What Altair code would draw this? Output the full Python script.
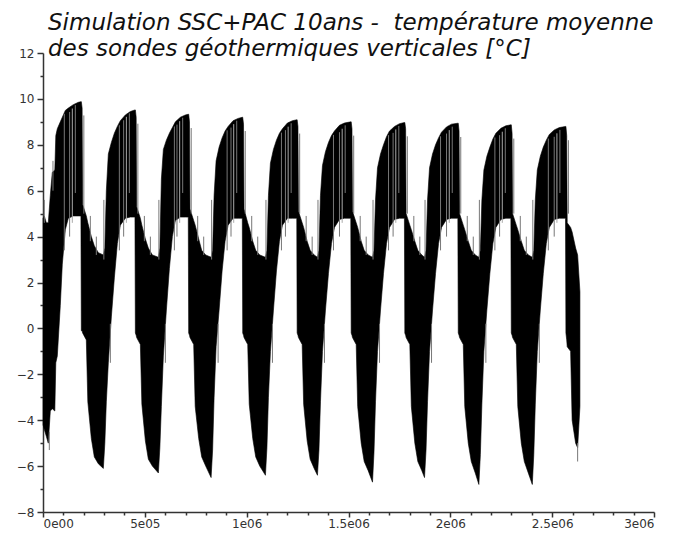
import altair as alt
import pandas as pd

# ---- data (time in thousands of units, temperature in °C) ----
# envelope of the dense signal: per segment, time / upper / lower
seg_time_k = [
    [0, 6.4, 16.2, 26.0, 35.9, 45.7, 58.0, 62.9, 70.3, 85.0, 94.8, 109.6, 124.3, 148.9, 173.4, 186.2, 188.2],
    [192.1, 194.6, 212.7, 220.1, 237.3, 252.0, 271.7, 296.3],
    [303.6, 311.0, 320.8, 335.6, 350.3, 365.1, 379.8, 404.4, 429.0, 451.5, 453.5],
    [457.4, 459.9, 478.0, 485.4, 502.6, 517.3, 537.0, 566.5],
    [573.8, 581.2, 591.0, 605.8, 620.5, 635.2, 650.0, 674.5, 699.1, 713.3, 715.3],
    [719.2, 721.7, 739.9, 747.3, 764.5, 779.2, 798.9, 825.4],
    [832.8, 840.1, 849.9, 864.7, 879.4, 894.1, 908.9, 933.4, 958.0, 978.6, 980.6],
    [984.6, 987.0, 1005.2, 1012.6, 1029.8, 1044.5, 1064.2, 1092.2],
    [1099.5, 1106.9, 1116.7, 1131.5, 1146.2, 1160.9, 1175.7, 1200.2, 1224.8, 1246.0, 1247.9],
    [1251.8, 1254.3, 1272.5, 1279.8, 1297.0, 1311.8, 1331.4, 1347.6],
    [1355.0, 1362.4, 1372.2, 1386.9, 1401.7, 1416.4, 1431.1, 1455.7, 1480.3, 1511.2, 1513.2],
    [1517.1, 1519.6, 1537.8, 1545.1, 1562.3, 1577.1, 1596.7, 1617.9],
    [1625.2, 1632.6, 1642.4, 1657.2, 1671.9, 1686.6, 1701.4, 1725.9, 1750.5, 1774.5, 1776.5],
    [1780.5, 1782.9, 1801.1, 1808.5, 1825.7, 1840.4, 1860.1, 1873.3],
    [1880.7, 1888.1, 1897.9, 1912.6, 1927.4, 1942.1, 1956.8, 1981.4, 2006.0, 2036.9, 2038.9],
    [2042.8, 2045.3, 2063.5, 2070.8, 2088.0, 2102.8, 2122.4, 2140.1],
    [2147.5, 2154.9, 2164.7, 2179.4, 2194.2, 2208.9, 2223.6, 2248.2, 2272.8, 2297.3, 2299.3],
    [2303.2, 2305.7, 2323.9, 2331.2, 2348.4, 2363.2, 2382.8, 2402.5],
    [2409.8, 2417.2, 2427.0, 2441.8, 2456.5, 2471.2, 2486.0, 2510.5, 2535.1, 2565.5, 2567.5],
    [2571.4, 2573.9, 2590.6, 2598.0, 2615.2, 2625.0, 2636.3],
]
seg_upper = [
    [4.8, 4.9, 4.6, 4.6, 5.8, 6.8, 6.9, 8.4, 8.7, 9.0, 9.2, 9.5, 9.6, 9.75, 9.85, 9.88, 9.88],
    [9.6, 5.4, 4.9, 4.6, 4.0, 3.6, 3.3, 3.2],
    [3.5, 6.0, 7.6, 8.1, 8.5, 8.8, 9.05, 9.3, 9.45, 9.52, 9.52],
    [9.2, 5.3, 4.8, 4.5, 3.9, 3.5, 3.2, 3.1],
    [3.5, 6.5, 7.8, 8.2, 8.5, 8.75, 9.0, 9.2, 9.3, 9.33, 9.33],
    [9.0, 5.2, 4.7, 4.5, 3.9, 3.4, 3.2, 3.1],
    [3.4, 5.8, 7.3, 7.9, 8.3, 8.6, 8.8, 9.05, 9.15, 9.2, 9.2],
    [8.9, 5.2, 4.6, 4.4, 3.8, 3.4, 3.2, 3.1],
    [3.4, 5.8, 7.2, 7.8, 8.2, 8.5, 8.7, 8.95, 9.05, 9.09, 9.09],
    [8.8, 5.1, 4.6, 4.4, 3.8, 3.4, 3.2, 3.1],
    [3.4, 5.8, 7.1, 7.7, 8.1, 8.4, 8.6, 8.85, 8.95, 9.0, 9.0],
    [8.7, 5.1, 4.6, 4.4, 3.8, 3.4, 3.2, 3.1],
    [3.4, 5.6, 7.0, 7.6, 8.0, 8.35, 8.6, 8.8, 8.92, 8.97, 8.97],
    [8.7, 5.0, 4.5, 4.3, 3.8, 3.4, 3.2, 3.1],
    [3.4, 5.6, 7.0, 7.6, 8.0, 8.3, 8.55, 8.78, 8.9, 8.94, 8.94],
    [8.6, 5.0, 4.5, 4.3, 3.8, 3.4, 3.2, 3.1],
    [3.4, 5.6, 6.9, 7.5, 7.9, 8.25, 8.5, 8.72, 8.83, 8.87, 8.87],
    [8.5, 5.0, 4.5, 4.3, 3.8, 3.4, 3.2, 3.1],
    [3.4, 5.6, 6.9, 7.5, 7.9, 8.2, 8.45, 8.65, 8.75, 8.8, 8.8],
    [8.4, 4.6, 4.4, 4.2, 3.5, 3.2, 1.6],
]
seg_lower = [
    [-4.2, -4.4, -4.7, -5.0, -3.6, -3.5, -3.6, -1.5, -1.2, 1.0, 2.8, 4.3, 4.8, 4.9, 4.9, 4.9, -0.1],
    [-0.1, -0.2, -0.5, -3.2, -4.8, -5.6, -5.9, -6.1],
    [-5.0, -3.2, -1.5, 0.5, 2.2, 3.7, 4.5, 4.8, 4.85, 4.85, -0.2],
    [-0.3, -0.4, -0.7, -3.3, -4.9, -5.7, -6.0, -6.3],
    [-5.2, -3.4, -1.2, 0.8, 2.6, 4.0, 4.7, 4.85, 4.85, 4.85, -0.2],
    [-0.3, -0.4, -0.7, -3.4, -4.8, -5.6, -6.0, -6.5],
    [-5.3, -3.0, -0.8, 0.8, 2.5, 3.8, 4.5, 4.8, 4.8, 4.8, -0.2],
    [-0.3, -0.4, -0.7, -3.3, -4.8, -5.6, -6.0, -6.4],
    [-5.2, -3.0, -1.0, 0.8, 2.5, 3.8, 4.5, 4.8, 4.8, 4.8, -0.2],
    [-0.3, -0.4, -0.7, -3.3, -4.9, -5.7, -6.1, -6.4],
    [-5.3, -3.2, -1.0, 0.8, 2.4, 3.7, 4.4, 4.75, 4.8, 4.8, -0.2],
    [-0.3, -0.4, -0.7, -3.4, -5.0, -5.8, -6.2, -6.7],
    [-5.4, -3.2, -1.0, 0.8, 2.4, 3.7, 4.4, 4.75, 4.8, 4.8, -0.2],
    [-0.3, -0.4, -0.7, -3.4, -5.0, -5.8, -6.2, -6.5],
    [-5.3, -3.2, -1.0, 0.8, 2.4, 3.7, 4.4, 4.75, 4.8, 4.8, -0.2],
    [-0.3, -0.4, -0.7, -3.4, -5.0, -5.8, -6.3, -6.8],
    [-5.5, -3.3, -1.0, 0.8, 2.4, 3.7, 4.4, 4.75, 4.8, 4.8, -0.2],
    [-0.3, -0.4, -0.7, -3.4, -5.0, -5.8, -6.3, -6.8],
    [-5.5, -3.3, -1.0, 0.8, 2.4, 3.7, 4.4, 4.75, 4.8, 4.8, -0.2],
    [-0.5, -0.8, -1.0, -4.0, -5.0, -5.2, -3.4],
]

# isolated thin excursions (grey single lines): time, top, bottom
spike_time_k = [
    6.4, 31.0, 49.0,
    130.7, 396.0, 657.8, 923.1, 1190.4, 1455.7, 1719.0, 1981.4, 2241.8, 2510.0,
    158.7, 424.0, 685.8, 951.1, 1218.4, 1483.7, 1747.0, 2009.4, 2269.8, 2538.0,
    200.5, 465.8, 727.6, 992.9, 1260.2, 1525.5, 1788.8, 2051.2, 2311.6, 2579.8,
    232.4, 497.7, 759.5, 1024.8, 1292.1, 1557.4, 1820.7, 2083.1, 2343.5,
    261.9, 527.2, 789.0, 1054.3, 1321.6, 1586.9, 1850.2, 2112.6, 2373.0,
    298.8, 569.0, 827.9, 1094.7, 1350.1, 1620.4, 1875.8, 2142.6, 2405.0,
    330.7, 600.9, 859.8, 1126.6, 1382.0, 1652.3, 1907.7, 2174.5, 2436.9,
    104.6, 374.9, 645.1, 904.0, 1170.8, 1426.2, 1696.5, 1951.9, 2218.7, 2481.1,
    2625.0,
]
spike_top = [
    5.6, -4.5, 7.3,
    9.43, 9.07, 8.88, 8.75, 8.64, 8.55, 8.52, 8.49, 8.42, 8.35,
    9.73, 9.37, 9.18, 9.05, 8.94, 8.85, 8.82, 8.79, 8.72, 8.65,
    9.28, 8.92, 8.73, 8.6, 8.49, 8.4, 8.37, 8.34, 8.27, 8.2,
    4.9, 4.9, 4.9, 4.9, 4.9, 4.9, 4.9, 4.9, 4.9,
    4.0, 4.0, 4.0, 4.0, 4.0, 4.0, 4.0, 4.0, 4.0,
    5.6, 5.6, 5.6, 5.6, 5.6, 5.6, 5.6, 5.6, 5.6,
    0.2, 0.2, 0.2, 0.2, 0.2, 0.2, 0.2, 0.2, 0.2,
    9.35, 8.85, 8.8, 8.63, 8.53, 8.43, 8.42, 8.37, 8.32, 8.27,
    -5.0,
]
spike_bottom = [
    4.6, -5.3, 6.0,
    4.0, 4.0, 4.0, 4.0, 4.0, 4.0, 4.0, 4.0, 4.0, 4.0,
    5.9, 5.9, 5.9, 5.9, 5.9, 5.9, 5.9, 5.9, 5.9, 5.9,
    5.0, 5.0, 5.0, 5.0, 5.0, 5.0, 5.0, 5.0, 5.0, 5.0,
    3.8, 3.8, 3.8, 3.8, 3.8, 3.8, 3.8, 3.8, 3.8,
    3.2, 3.2, 3.2, 3.2, 3.2, 3.2, 3.2, 3.2, 3.2,
    3.0, 3.0, 3.0, 3.0, 3.0, 3.0, 3.0, 3.0, 3.0,
    -1.5, -1.5, -1.5, -1.5, -1.5, -1.5, -1.5, -1.5, -1.5,
    3.4, 3.4, 3.4, 3.4, 3.4, 3.4, 3.4, 3.4, 3.4, 3.4,
    -5.8,
]

# lighter gaps seen inside the summer black band: time, top, bottom
gap_time_k = [144.0, 409.3, 671.1, 936.4, 1203.7, 1469.0, 1732.3, 1994.7, 2255.1, 2523.3]
gap_top = [9.58, 9.22, 9.03, 8.9, 8.79, 8.7, 8.67, 8.64, 8.57, 8.5]
gap_bottom = [4.6, 4.6, 4.6, 4.6, 4.6, 4.6, 4.6, 4.6, 4.6, 4.6]

x_major = [0, 500000, 1000000, 1500000, 2000000, 2500000, 3000000]
x_major_labels = ["0e00", "5e05", "1e06", "1.5e06", "2e06", "2.5e06", "3e06"]
x_minor = [v * 100000 for v in range(0, 31) if v % 5 != 0]
y_major = [-8, -6, -4, -2, 0, 2, 4, 6, 8, 10, 12]
y_minor = [-7, -5, -3, -1, 1, 3, 5, 7, 9, 11]

title_lines = ["Simulation SSC+PAC 10ans -\u00a0 température moyenne",
               "des sondes géothermiques verticales [°C]"]

# ---- tables ----
rows = []
for ts, us, ls in zip(seg_time_k, seg_upper, seg_lower):
    for t, u, l in zip(ts, us, ls):
        rows.append({"t": t * 1000, "upper": u, "lower": l})
env = pd.DataFrame(rows)
spikes = pd.DataFrame({"t": [v * 1000 for v in spike_time_k],
                       "top": spike_top, "bottom": spike_bottom})
gaps = pd.DataFrame({"t": [v * 1000 for v in gap_time_k],
                     "top": gap_top, "bottom": gap_bottom})

label_expr = "[" + ",".join("'%s'" % s for s in x_major_labels) + "][round(datum.value/500000)]"

xscale = alt.Scale(domain=[0, 3000000], nice=False, zero=False)
yscale = alt.Scale(domain=[-8, 12], nice=False, zero=False)

axis_common = dict(grid=False, title=None, domainColor="#333", tickColor="#333",
                   domainWidth=1.5, tickWidth=1.5, labelFont="DejaVu Sans",
                   labelFontSize=12, labelColor="#333")

area = alt.Chart(env).mark_area(color="black", stroke="black", strokeWidth=0.6,
                                interpolate="linear").encode(
    x=alt.X("t:Q", scale=xscale,
            axis=alt.Axis(values=x_major, labelExpr=label_expr, tickSize=5,
                          labelPadding=1, orient="bottom", **axis_common)),
    y=alt.Y("upper:Q", scale=yscale,
            axis=alt.Axis(values=y_major, tickSize=6, labelPadding=3,
                          orient="left", **axis_common)),
    y2="lower:Q",
)

spike_layer = alt.Chart(spikes).mark_rule(color="#777", strokeWidth=1).encode(
    x=alt.X("t:Q", scale=xscale,
            axis=alt.Axis(values=x_minor, labels=False, domain=False, tickSize=3,
                          tickColor="#333", tickWidth=1.5, orient="bottom",
                          grid=False, title=None)),
    y=alt.Y("top:Q", scale=yscale,
            axis=alt.Axis(values=y_minor, labels=False, domain=False, tickSize=3,
                          tickColor="#333", tickWidth=1.5, orient="left",
                          grid=False, title=None)),
    y2="bottom:Q",
)

gap_layer = alt.Chart(gaps).mark_rule(color="#aaa", strokeWidth=1).encode(
    x=alt.X("t:Q", scale=xscale, axis=None),
    y=alt.Y("top:Q", scale=yscale, axis=None),
    y2="bottom:Q",
)

chart = alt.layer(area, spike_layer, gap_layer).resolve_axis(
    x="independent", y="independent"
).properties(
    width=611,
    height=459,
    padding={"left": 35, "top": 45, "right": 16, "bottom": 18},
    autosize=alt.AutoSizeParams(type="none"),
    title=alt.TitleParams(text=title_lines, anchor="start", frame="group",
                          font="DejaVu Sans", fontSize=23, fontStyle="italic",
                          fontWeight="normal", color="#111", lineHeight=26.5,
                          offset=-14, dx=5),
).configure_view(stroke=None)

chart.save("out.html", embed_options={"renderer": "svg", "actions": False})
